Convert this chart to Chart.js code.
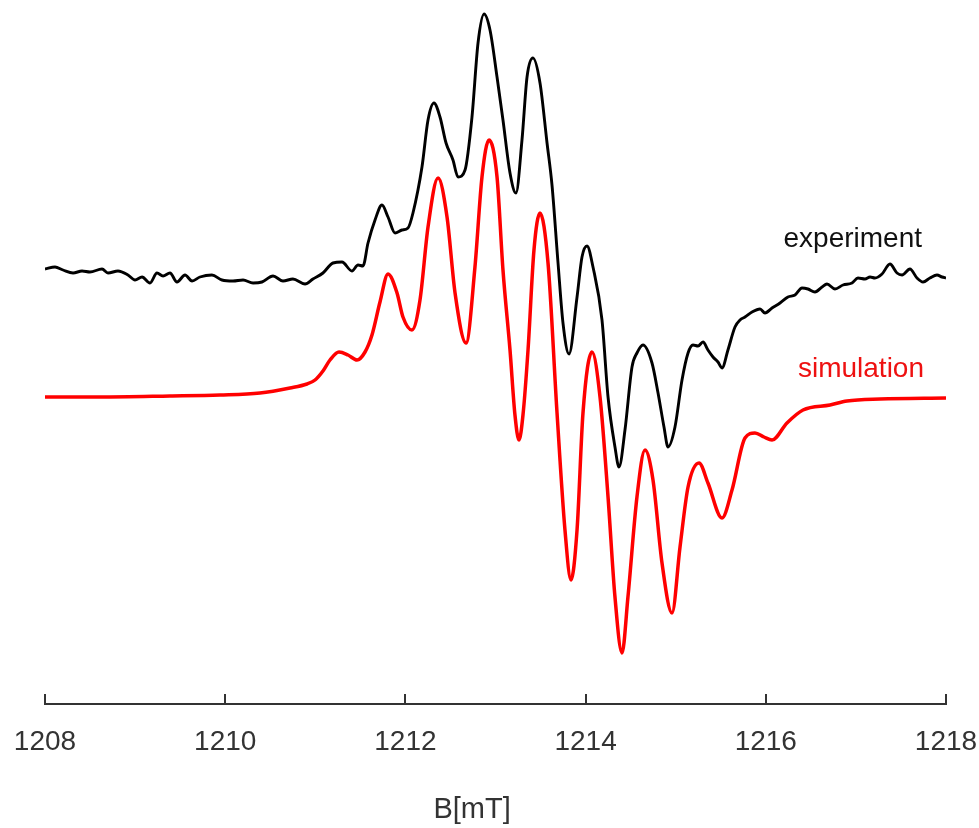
<!DOCTYPE html>
<html>
<head>
<meta charset="utf-8">
<title>EPR spectrum</title>
<script src="https://cdn.jsdelivr.net/npm/chart.js@4.4.1/dist/chart.umd.min.js"></script>
<style>
  html, body { margin: 0; padding: 0; background: #fff; }
  #wrap { width: 979px; height: 828px; }
</style>
</head>
<body>
<div id="wrap"><canvas id="eprChart" width="979" height="828"></canvas></div>
<script>
// ---- Spectrum data (field in mT, intensity in a.u.) ----
const expField = [
  1208.000, 1208.111, 1208.200, 1208.311, 1208.411, 1208.499, 1208.633, 1208.699, 1208.810, 1208.921,
  1208.999, 1209.077, 1209.165, 1209.243, 1209.310, 1209.387, 1209.465, 1209.554, 1209.632, 1209.720,
  1209.853, 1209.964, 1210.087, 1210.198, 1210.309, 1210.408, 1210.531, 1210.641, 1210.752, 1210.886,
  1210.974, 1211.085, 1211.196, 1211.296, 1211.407, 1211.474, 1211.529, 1211.585, 1211.663, 1211.740,
  1211.807, 1211.885, 1211.962, 1212.029, 1212.084, 1212.184, 1212.251, 1212.317, 1212.384, 1212.451,
  1212.528, 1212.584, 1212.662, 1212.739, 1212.806, 1212.873, 1212.939, 1213.017, 1213.083, 1213.161,
  1213.227, 1213.294, 1213.350, 1213.416, 1213.494, 1213.572, 1213.627, 1213.694, 1213.749, 1213.816,
  1213.905, 1213.960, 1214.016, 1214.082, 1214.182, 1214.249, 1214.326, 1214.371, 1214.437, 1214.515,
  1214.570, 1214.637, 1214.737, 1214.804, 1214.870, 1214.915, 1214.992, 1215.070, 1215.137, 1215.192,
  1215.248, 1215.303, 1215.358, 1215.414, 1215.469, 1215.514, 1215.580, 1215.658, 1215.714, 1215.769,
  1215.847, 1215.936, 1215.991, 1216.069, 1216.158, 1216.246, 1216.324, 1216.402, 1216.468, 1216.546,
  1216.624, 1216.679, 1216.768, 1216.857, 1216.957, 1217.023, 1217.101, 1217.157, 1217.212, 1217.290,
  1217.378, 1217.456, 1217.512, 1217.600, 1217.678, 1217.745, 1217.822, 1217.900, 1217.956, 1218.000
];
const expSignal = [
  1, 3, 0, -3, -1, -2, 1, -3, -1, -5,
  -10, -7, -13, -3, -6, -3, -12, -5, -11, -7,
  -5, -10, -11, -10, -13, -12, -6, -11, -9, -14,
  -9, -3, 7, 8, -1, 5, 4, 27, 50, 65,
  53, 37, 40, 42, 57, 103, 150, 167, 153, 127,
  110, 93, 100, 153, 227, 256, 240, 193, 150, 97,
  77, 130, 193, 212, 187, 127, 85, 7, -53, -84,
  -27, 13, 24, 3, -50, -127, -177, -197, -160, -97,
  -83, -75, -93, -123, -157, -177, -157, -110, -83, -75,
  -76, -72, -80, -87, -92, -98, -80, -57, -50, -47,
  -42, -39, -43, -38, -33, -27, -25, -18, -19, -22,
  -17, -14, -19, -15, -13, -8, -9, -7, -8, -4,
  6, -3, -5, 1, -8, -12, -8, -5, -7, -8
];

const simField = [
  1208.000, 1208.610, 1209.387, 1209.942, 1210.386, 1210.719, 1210.908, 1210.997, 1211.085, 1211.163,
  1211.263, 1211.363, 1211.463, 1211.552, 1211.629, 1211.718, 1211.807, 1211.907, 1211.973, 1212.073,
  1212.162, 1212.251, 1212.362, 1212.462, 1212.551, 1212.673, 1212.772, 1212.850, 1212.928, 1213.017,
  1213.083, 1213.161, 1213.216, 1213.261, 1213.305, 1213.361, 1213.427, 1213.494, 1213.583, 1213.683,
  1213.771, 1213.838, 1213.905, 1213.971, 1214.071, 1214.160, 1214.249, 1214.326, 1214.404, 1214.470,
  1214.570, 1214.659, 1214.748, 1214.848, 1214.959, 1215.048, 1215.137, 1215.259, 1215.358, 1215.514,
  1215.625, 1215.769, 1215.880, 1215.980, 1216.069, 1216.235, 1216.413, 1216.713, 1216.901, 1217.268,
  1218.000
];
const simSignal = [
  0, 0, 1, 2, 4, 9, 13, 17, 26, 37,
  45, 42, 37, 45, 62, 95, 123, 104, 80, 67,
  97, 170, 219, 180, 104, 54, 130, 220, 257, 220,
  127, 47, -18, -43, -18, 47, 147, 184, 134, -16,
  -133, -183, -133, -16, 45, 0, -100, -200, -256, -200,
  -100, -53, -83, -166, -216, -150, -90, -66, -86, -121,
  -93, -41, -36, -40, -43, -26, -13, -8, -4, -2,
  -1
];

const fieldTicks = [1208, 1210, 1212, 1214, 1216, 1218];
const expOffset = 127;   // experiment trace is stacked above the simulation

const FONT = '"Liberation Sans", Arial, sans-serif';
const toPoints = (xs, ys, shift) => xs.map((x, i) => ({ x: x, y: ys[i] + shift }));

// ---- Trace labels and the field axis title ----
const annotations = {
  id: 'annotations',
  afterDraw(chart) {
    const { ctx, scales: { x, y } } = chart;
    ctx.save();
    ctx.textBaseline = 'alphabetic';

    ctx.font = '28px ' + FONT;
    ctx.textAlign = 'right';
    ctx.fillStyle = '#111111';
    ctx.fillText('experiment', x.getPixelForValue(1217.734), y.getPixelForValue(150));
    ctx.fillStyle = '#ee1111';
    ctx.fillText('simulation', x.getPixelForValue(1217.756), y.getPixelForValue(20));

    // axis title sits a little left of the axis centre
    ctx.font = '29px ' + FONT;
    ctx.textAlign = 'center';
    ctx.fillStyle = '#333333';
    ctx.fillText('B[mT]', x.left + x.width * 0.474, x.bottom + 28);
    ctx.restore();
  }
};

const ctx = document.getElementById('eprChart').getContext('2d');
const eprChart = new Chart(ctx, {
  type: 'line',
  data: {
    datasets: [
      {
        label: 'experiment',
        data: toPoints(expField, expSignal, expOffset),
        borderColor: '#000000',
        borderWidth: 2.9,
        pointRadius: 0,
        cubicInterpolationMode: 'monotone',
        fill: false
      },
      {
        label: 'simulation',
        data: toPoints(simField, simSignal, 0),
        borderColor: '#ff0000',
        borderWidth: 3.5,
        pointRadius: 0,
        cubicInterpolationMode: 'monotone',
        fill: false
      }
    ]
  },
  options: {
    responsive: false,
    animation: false,
    layout: { padding: { left: 45, right: 33, top: 0, bottom: 38 } },
    plugins: {
      legend: { display: false },
      tooltip: { enabled: false }
    },
    scales: {
      x: {
        type: 'linear',
        min: 1208,
        max: 1218,
        afterBuildTicks: scale => {
          scale.ticks = fieldTicks.map(v => ({ value: v }));
        },
        ticks: {
          color: '#333333',
          padding: 0,
          maxRotation: 0,
          callback: v => String(v),
          // tall line box pushes the labels below the inward tick marks
          font: { family: FONT, size: 28, lineHeight: 96 / 28 }
        },
        grid: {
          drawOnChartArea: false,
          tickLength: -10,
          color: '#333333',
          lineWidth: 2
        },
        border: { display: true, color: '#333333', width: 2 },
        title: { display: false }
      },
      y: {
        display: false,
        min: -307,
        max: 397
      }
    }
  },
  plugins: [annotations]
});
</script>
</body>
</html>
